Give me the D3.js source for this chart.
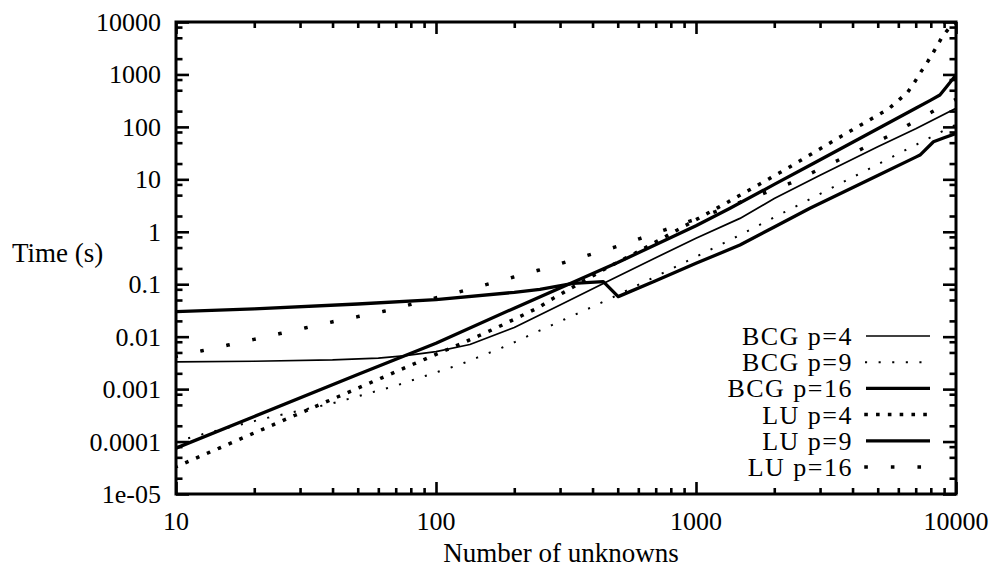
<!DOCTYPE html>
<html>
<head>
<meta charset="utf-8">
<script src="https://cdn.jsdelivr.net/npm/d3@7"></script>
<style>
  body { margin: 0; background: #fff; }
  svg text { font-family: "Liberation Serif", "Times New Roman", Times, "DejaVu Serif", serif; font-size: 26px; fill: #000; }
  svg text.title { font-size: 27px; }
  svg text.key { font-size: 26px; letter-spacing: 1.5px; }
</style>
</head>
<body>
<svg width="995" height="574"></svg>
<script>
// values: [number of unknowns, time in s]
var bcg4 = [[10, 0.0033], [20, 0.0034], [40, 0.0036], [60, 0.0039], [75, 0.0043], [100, 0.0052],
  [135, 0.0071], [200, 0.015], [300, 0.04], [454, 0.112], [700, 0.32], [1000, 0.75], [1476, 1.8],
  [2000, 4.3], [3000, 12], [5000, 42], [7000, 92], [10000, 226]];
var bcg9 = [[10, 1.0e-4], [12.6, 1.37e-4], [22, 2.77e-4], [40, 5.35e-4], [70, 1.16e-3], [125, 3.0e-3],
  [187, 0.0067], [250, 0.013], [358, 0.029], [447, 0.048], [837, 0.216], [1413, 0.78], [2404, 3.0],
  [5000, 19.3], [9330, 94], [10000, 110]];
var bcg16 = [[10, 0.03], [20, 0.034], [50, 0.042], [100, 0.051], [200, 0.07], [251, 0.08], [337, 0.104],
  [440, 0.112], [502, 0.058], [700, 0.116], [1000, 0.25], [1476, 0.56], [2000, 1.23], [2743, 2.8],
  [5000, 11.8], [7000, 26.5], [7270, 29], [8190, 52], [9000, 62], [10000, 75]];
var lu4 = [[10, 3.3e-5], [20, 1.46e-4], [50, 1.04e-3], [100, 0.0046], [123, 0.0071], [169, 0.0144],
  [201, 0.0217], [248, 0.036], [278, 0.0515], [450, 0.2], [600, 0.42], [1000, 1.7], [1313, 3.58],
  [2188, 15], [3556, 63], [5495, 219], [6500, 450], [6950, 730], [7380, 1180], [7670, 1560],
  [8130, 2500], [8890, 5400], [9630, 8800], [10000, 10000]];
var lu9 = [[10, 7.5e-5], [20, 3.0e-4], [50, 0.0019], [100, 0.0075], [200, 0.035], [500, 0.26],
  [1000, 1.3], [1352, 2.8], [2000, 8], [2825, 20], [5000, 92], [7000, 226], [8000, 324], [8670, 405],
  [9200, 583], [10000, 977]];
var lu16 = [[10, 0.0042], [20, 0.0089], [40, 0.0192], [64, 0.031], [125, 0.073], [250, 0.187],
  [500, 0.53], [1000, 1.75], [2300, 8.4], [5370, 63], [8110, 195], [10000, 336]];

var seriesNames = ["BCG p=4", "BCG p=9", "BCG p=16", "LU p=4", "LU p=9", "LU p=16"];
var xTickLabels = ["10", "100", "1000", "10000"];
var yTickLabels = ["1e-05", "0.0001", "0.001", "0.01", "0.1", "1", "10", "100", "1000", "10000"];

(function () {
	var svg = d3.select("svg");
	var left = 176, right = 956, top = 22, bottom = 494;

	var x = d3.scaleLog().domain([10, 10000]).range([left, right]);
	var y = d3.scaleLog().domain([1e-5, 1e4]).range([bottom, top]);

	var xMajor = xTickLabels.map(Number);
	var yMajor = yTickLabels.map(Number);
	var xMinor = [], yMinor = [];
	xMajor.slice(0, -1).forEach(function (d) {
		for (var k = 2; k <= 9; k++) xMinor.push(d * k);
	});
	yMajor.slice(0, -1).forEach(function (d) {
		[2, 5, 8].forEach(function (k) { yMinor.push(d * k); });
	});

	function ticks(axis, vals, size, transform) {
		var g = svg.append("g")
			.attr("transform", transform)
			.call(axis.tickValues(vals).tickSizeInner(-size).tickSizeOuter(0).tickFormat(""));
		g.select(".domain").remove();
		g.selectAll(".tick line").attr("stroke", "#000").attr("stroke-width", 2.6);
		return g;
	}

	ticks(d3.axisBottom(x), xMinor, 6, "translate(0," + bottom + ")");
	ticks(d3.axisTop(x), xMinor, 6, "translate(0," + top + ")");
	ticks(d3.axisBottom(x), xMajor, 12, "translate(0," + bottom + ")");
	ticks(d3.axisTop(x), xMajor, 12, "translate(0," + top + ")");
	ticks(d3.axisLeft(y), yMinor, 6.5, "translate(" + left + ",0)");
	ticks(d3.axisRight(y), yMinor, 6.5, "translate(" + right + ",0)");
	ticks(d3.axisLeft(y), yMajor, 13, "translate(" + left + ",0)");
	ticks(d3.axisRight(y), yMajor, 13, "translate(" + right + ",0)");

	// tick labels
	svg.append("g").selectAll("text")
		.data(yMajor)
		.enter().append("text")
		.attr("x", left - 15)
		.attr("y", function (d) { return y(d) + 9; })
		.attr("text-anchor", "end")
		.text(function (d, i) { return yTickLabels[i]; });

	svg.append("g").selectAll("text")
		.data(xMajor)
		.enter().append("text")
		.attr("x", function (d) { return x(d); })
		.attr("y", bottom + 36)
		.attr("text-anchor", "middle")
		.text(function (d, i) { return xTickLabels[i]; });

	svg.append("text").attr("class", "title").attr("x", 12).attr("y", 262).text("Time (s)");
	svg.append("text").attr("class", "title").attr("x", 561).attr("y", 562)
		.attr("text-anchor", "middle").text("Number of unknowns");

	// curves
	svg.append("clipPath").attr("id", "plot")
		.append("rect").attr("x", left).attr("y", top)
		.attr("width", right - left).attr("height", bottom - top);

	var styles = [
		{ w: 1.7, dash: null, cap: "butt" },
		{ w: 2, dash: "0.1 13.5", cap: "square" },
		{ w: 3.3, dash: null, cap: "butt" },
		{ w: 3.5, dash: "0.1 11.7", cap: "square" },
		{ w: 3.3, dash: null, cap: "butt" },
		{ w: 3.5, dash: "0.1 26.5", cap: "square" }
	];
	var data = [bcg4, bcg9, bcg16, lu4, lu9, lu16];

	var line = d3.line()
		.x(function (d) { return x(d[0]); })
		.y(function (d) { return y(d[1]); });

	svg.append("g").attr("clip-path", "url(#plot)")
		.selectAll("path")
		.data(data)
		.enter().append("path")
		.attr("d", line)
		.attr("fill", "none")
		.attr("stroke", "#000")
		.attr("stroke-linejoin", "round")
		.attr("stroke-width", function (d, i) { return styles[i].w; })
		.attr("stroke-dasharray", function (d, i) { return styles[i].dash; })
		.attr("stroke-linecap", function (d, i) { return styles[i].cap; });

	// legend
	var legend = svg.append("g").selectAll("g")
		.data(seriesNames)
		.enter().append("g")
		.attr("transform", function (d, i) { return "translate(0," + (336 + i * 26.2) + ")"; });

	legend.append("text")
		.attr("class", "key")
		.attr("x", 853)
		.attr("y", 9)
		.attr("text-anchor", "end")
		.text(function (d) { return d; });

	legend.append("path")
		.attr("d", "M866,0H930")
		.attr("fill", "none")
		.attr("stroke", "#000")
		.attr("stroke-width", function (d, i) { return styles[i].w; })
		.attr("stroke-dasharray", function (d, i) { return styles[i].dash; })
		.attr("stroke-linecap", function (d, i) { return styles[i].cap; });

	// frame
	svg.append("rect")
		.attr("x", left).attr("y", top)
		.attr("width", right - left).attr("height", bottom - top)
		.attr("fill", "none").attr("stroke", "#000").attr("stroke-width", 3);
}) ();
</script>
</body>
</html>
